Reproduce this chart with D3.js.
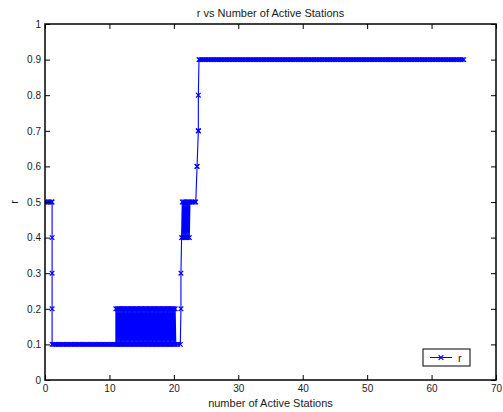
<!DOCTYPE html>
<html>
<head>
<meta charset="utf-8">
<script src="https://cdn.jsdelivr.net/npm/d3@7/dist/d3.min.js"></script>
<style>
  html, body { margin: 0; padding: 0; background: #fff; }
  svg { display: block; font-family: "Liberation Sans", Arial, Helvetica, sans-serif; }
</style>
</head>
<body>
<svg id="chart" width="503" height="412"></svg>
<script>
// ---- data ----
const titleText = "r vs Number of Active Stations";
const xLabelText = "number of Active Stations";
const yLabelText = "r";
const seriesName = "r";
const xTicks = [0, 10, 20, 30, 40, 50, 60, 70];
const yTicks = [0, 0.1, 0.2, 0.3, 0.4, 0.5, 0.6, 0.7, 0.8, 0.9, 1];
const yTickLabels = ["0", "0.1", "0.2", "0.3", "0.4", "0.5", "0.6", "0.7", "0.8", "0.9", "1"];

// start at r = 0.5, then drop to 0.1 at x ~ 1.1
const startX = [0, 0.25, 0.5, 0.75, 1, 1.1, 1.1, 1.1, 1.1, 1.1];
const startR = [0.5, 0.5, 0.5, 0.5, 0.5, 0.5, 0.4, 0.3, 0.2, 0.1];
// plateau at r = 0.1 (x = 1.25 .. 11), then jump to 0.2 at x = 11
const lowX = [1.25, 1.5, 1.75, 2, 2.25, 2.5, 2.75, 3, 3.25, 3.5, 3.75, 4, 4.25, 4.5, 4.75, 5,
  5.25, 5.5, 5.75, 6, 6.25, 6.5, 6.75, 7, 7.25, 7.5, 7.75, 8, 8.25, 8.5, 8.75, 9,
  9.25, 9.5, 9.75, 10, 10.25, 10.5, 10.75, 11, 11];
const lowR = [0.1, 0.1, 0.1, 0.1, 0.1, 0.1, 0.1, 0.1, 0.1, 0.1, 0.1, 0.1, 0.1, 0.1, 0.1, 0.1,
  0.1, 0.1, 0.1, 0.1, 0.1, 0.1, 0.1, 0.1, 0.1, 0.1, 0.1, 0.1, 0.1, 0.1, 0.1, 0.1,
  0.1, 0.1, 0.1, 0.1, 0.1, 0.1, 0.1, 0.1, 0.2];
// rapid oscillation between 0.1 and 0.2 (x = 11.1 .. 20.3)
const oscX = [
  11.1, 11.2, 11.3, 11.4, 11.5, 11.6, 11.7, 11.8, 11.9, 12.0,
  12.1, 12.2, 12.3, 12.4, 12.5, 12.6, 12.7, 12.8, 12.9, 13.0,
  13.1, 13.2, 13.3, 13.4, 13.5, 13.6, 13.7, 13.8, 13.9, 14.0,
  14.1, 14.2, 14.3, 14.4, 14.5, 14.6, 14.7, 14.8, 14.9, 15.0,
  15.1, 15.2, 15.3, 15.4, 15.5, 15.6, 15.7, 15.8, 15.9, 16.0,
  16.1, 16.2, 16.3, 16.4, 16.5, 16.6, 16.7, 16.8, 16.9, 17.0,
  17.1, 17.2, 17.3, 17.4, 17.5, 17.6, 17.7, 17.8, 17.9, 18.0,
  18.1, 18.2, 18.3, 18.4, 18.5, 18.6, 18.7, 18.8, 18.9, 19.0,
  19.1, 19.2, 19.3, 19.4, 19.5, 19.6, 19.7, 19.8, 19.9, 20.0,
  20.1, 20.2, 20.3];
const oscR = [
  0.1, 0.2, 0.1, 0.2, 0.1, 0.2, 0.1, 0.2, 0.1, 0.2,
  0.1, 0.2, 0.1, 0.2, 0.1, 0.2, 0.1, 0.2, 0.1, 0.2,
  0.1, 0.2, 0.1, 0.2, 0.1, 0.2, 0.1, 0.2, 0.1, 0.2,
  0.1, 0.2, 0.1, 0.2, 0.1, 0.2, 0.1, 0.2, 0.1, 0.2,
  0.1, 0.2, 0.1, 0.2, 0.1, 0.2, 0.1, 0.2, 0.1, 0.2,
  0.1, 0.2, 0.1, 0.2, 0.1, 0.2, 0.1, 0.2, 0.1, 0.2,
  0.1, 0.2, 0.1, 0.2, 0.1, 0.2, 0.1, 0.2, 0.1, 0.2,
  0.1, 0.2, 0.1, 0.2, 0.1, 0.2, 0.1, 0.2, 0.1, 0.2,
  0.1, 0.2, 0.1, 0.2, 0.1, 0.2, 0.1, 0.2, 0.1, 0.2,
  0.1, 0.2, 0.1];
// climb from 0.1 to 0.9 around x = 21 .. 24 (with a 0.4/0.5 oscillation)
const riseX = [20.6, 21, 21.1, 21.1, 21.2,
  21.3, 21.4, 21.5, 21.6, 21.7, 21.8, 21.9, 22.0, 22.1, 22.2, 22.3, 22.4, 22.5,
  22.75, 23, 23.25, 23.4, 23.6, 23.8, 23.6, 23.8, 23.8, 23.9];
const riseR = [0.1, 0.1, 0.2, 0.3, 0.4,
  0.5, 0.4, 0.5, 0.4, 0.5, 0.4, 0.5, 0.4, 0.5, 0.4, 0.5, 0.4, 0.5,
  0.5, 0.5, 0.5, 0.5, 0.6, 0.7, 0.6, 0.7, 0.8, 0.9];
// plateau at r = 0.9 (x = 24 .. 65)
const highX = [
  24, 24.25, 24.5, 24.75, 25, 25.25, 25.5, 25.75, 26, 26.25, 26.5, 26.75, 27, 27.25, 27.5, 27.75,
  28, 28.25, 28.5, 28.75, 29, 29.25, 29.5, 29.75, 30, 30.25, 30.5, 30.75, 31, 31.25, 31.5, 31.75,
  32, 32.25, 32.5, 32.75, 33, 33.25, 33.5, 33.75, 34, 34.25, 34.5, 34.75, 35, 35.25, 35.5, 35.75,
  36, 36.25, 36.5, 36.75, 37, 37.25, 37.5, 37.75, 38, 38.25, 38.5, 38.75, 39, 39.25, 39.5, 39.75,
  40, 40.25, 40.5, 40.75, 41, 41.25, 41.5, 41.75, 42, 42.25, 42.5, 42.75, 43, 43.25, 43.5, 43.75,
  44, 44.25, 44.5, 44.75, 45, 45.25, 45.5, 45.75, 46, 46.25, 46.5, 46.75, 47, 47.25, 47.5, 47.75,
  48, 48.25, 48.5, 48.75, 49, 49.25, 49.5, 49.75, 50, 50.25, 50.5, 50.75, 51, 51.25, 51.5, 51.75,
  52, 52.25, 52.5, 52.75, 53, 53.25, 53.5, 53.75, 54, 54.25, 54.5, 54.75, 55, 55.25, 55.5, 55.75,
  56, 56.25, 56.5, 56.75, 57, 57.25, 57.5, 57.75, 58, 58.25, 58.5, 58.75, 59, 59.25, 59.5, 59.75,
  60, 60.25, 60.5, 60.75, 61, 61.25, 61.5, 61.75, 62, 62.25, 62.5, 62.75, 63, 63.25, 63.5, 63.75,
  64, 64.25, 64.5, 64.75, 65];
const highLevel = 0.9;
const highR = highX.map(() => highLevel);

const seriesX = [].concat(startX, lowX, oscX, riseX, highX);
const seriesR = [].concat(startR, lowR, oscR, riseR, highR);
const points = seriesX.map((v, i) => ({ x: v, r: seriesR[i] }));

// ---- drawing ----
const svg = d3.select("#chart");
const mLeft = 45, mRight = 496, mTop = 24, mBottom = 380;
const xs = d3.scaleLinear().domain([0, 70]).range([mLeft, mRight]);
const ys = d3.scaleLinear().domain([0, 1]).range([mBottom, mTop]);
const blue = "#0000ff";
const textColor = "#1a1a1a";

svg.append("defs").append("clipPath").attr("id", "clip")
  .append("rect").attr("x", mLeft).attr("y", mTop).attr("width", mRight - mLeft).attr("height", mBottom - mTop);

const plot = svg.append("g").attr("clip-path", "url(#clip)");
plot.append("path")
  .datum(points)
  .attr("fill", "none")
  .attr("stroke", blue)
  .attr("stroke-width", 1.1)
  .attr("d", d3.line().x(d => xs(d.x)).y(d => ys(d.r)));

const xMarker = "M-2.3,-2.3L2.3,2.3M-2.3,2.3L2.3,-2.3";
plot.selectAll("path.mk").data(points).join("path")
  .attr("class", "mk")
  .attr("transform", d => `translate(${xs(d.x)},${ys(d.r)})`)
  .attr("d", xMarker)
  .attr("stroke", blue)
  .attr("stroke-width", 1.2)
  .attr("fill", "none");

// axes (MATLAB style: inward ticks on all four sides)
function styleAxis(g) {
  g.select(".domain").remove();
  g.selectAll(".tick line").attr("stroke", "#000").attr("stroke-width", 1);
  g.selectAll(".tick text").attr("fill", textColor).style("font-size", "10px");
}
svg.append("g").attr("transform", `translate(0,${mBottom})`)
  .call(d3.axisBottom(xs).tickValues(xTicks).tickSize(-5).tickPadding(5).tickFormat(d3.format("d")))
  .call(styleAxis);
svg.append("g").attr("transform", `translate(0,${mTop})`)
  .call(d3.axisTop(xs).tickValues(xTicks).tickSize(-5).tickFormat(""))
  .call(styleAxis);
svg.append("g").attr("transform", `translate(${mLeft},0)`)
  .call(d3.axisLeft(ys).tickValues(yTicks).tickSize(-5).tickPadding(4).tickFormat((d, i) => yTickLabels[i]))
  .call(styleAxis);
svg.append("g").attr("transform", `translate(${mRight},0)`)
  .call(d3.axisRight(ys).tickValues(yTicks).tickSize(-5).tickFormat(""))
  .call(styleAxis);

svg.append("rect")
  .attr("x", mLeft).attr("y", mTop).attr("width", mRight - mLeft).attr("height", mBottom - mTop)
  .attr("fill", "none").attr("stroke", "#000").attr("stroke-width", 1.5);

// title & labels
svg.append("text").attr("x", (mLeft + mRight) / 2).attr("y", 17)
  .attr("text-anchor", "middle").attr("fill", textColor).style("font-size", "11px")
  .text(titleText);
svg.append("text").attr("x", (mLeft + mRight) / 2).attr("y", 407)
  .attr("text-anchor", "middle").attr("fill", textColor).style("font-size", "11px")
  .text(xLabelText);
svg.append("text").attr("transform", `translate(18,${(mTop + mBottom) / 2}) rotate(-90)`)
  .attr("text-anchor", "middle").attr("fill", textColor).style("font-size", "11px")
  .text(yLabelText);

// legend
const lg = svg.append("g");
lg.append("rect").attr("x", 423).attr("y", 349).attr("width", 47).attr("height", 17)
  .attr("fill", "#fff").attr("stroke", "#000").attr("stroke-width", 1);
lg.append("line").attr("x1", 430).attr("x2", 452).attr("y1", 357.5).attr("y2", 357.5)
  .attr("stroke", blue).attr("stroke-width", 1);
lg.append("path").attr("transform", "translate(441,357.5)").attr("d", xMarker)
  .attr("stroke", blue).attr("stroke-width", 1.2).attr("fill", "none");
lg.append("text").attr("x", 458).attr("y", 361.5).attr("fill", textColor)
  .style("font-size", "11px").text(seriesName);
</script>
</body>
</html>
